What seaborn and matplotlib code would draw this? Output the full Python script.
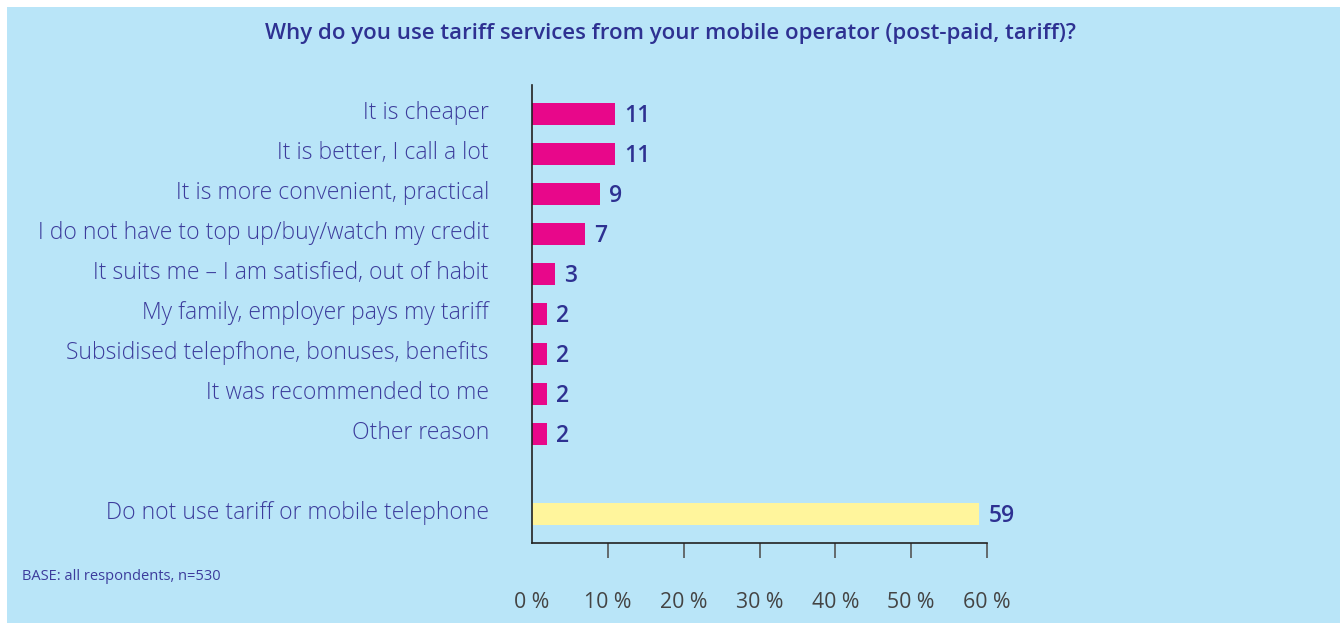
import matplotlib
matplotlib.use("Agg")
import matplotlib.pyplot as plt
import matplotlib.transforms as mtransforms
import seaborn as sns
import pandas as pd
from matplotlib.patches import Rectangle

# Survey answers (% of respondents)
reasons = [
    "It is cheaper",
    "It is better, I call a lot",
    "It is more convenient, practical",
    "I do not have to top up/buy/watch my credit",
    "It suits me \u2013 I am satisfied, out of habit",
    "My family, employer pays my tariff",
    "Subsidised telepfhone, bonuses, benefits",
    "It was recommended to me",
    "Other reason",
]
reason_values = [11, 11, 9, 7, 3, 2, 2, 2, 2]
no_use_label = "Do not use tariff or mobile telephone"
no_use_value = 59
x_ticks = [0, 10, 20, 30, 40, 50, 60]
x_tick_labels = [f"{t} %" for t in x_ticks]

title = "Why do you use tariff services from your mobile operator (post-paid, tariff)?"
base_note = "BASE: all respondents, n=530"

BG = "#b9e5f8"
PINK = "#e8078a"
YELLOW = "#fff59c"
NAVY = "#2e3192"
LABEL = "#3c3c9c"

df = pd.DataFrame({
    "answer": reasons + [no_use_label],
    "value": reason_values + [no_use_value],
    "group": ["reason"] * len(reasons) + ["none"],
})
spacer = " "
order = reasons + [spacer, no_use_label]

sns.set_theme(style="white")
plt.rcParams["font.family"] = ["Open Sans", "DejaVu Sans"]

fig = plt.figure(figsize=(13.4, 6.23), dpi=100, facecolor="white")
W, H = 1340, 623
fig.patches.append(Rectangle((7 / W, 0), 1, 1 - 7 / H, transform=fig.transFigure,
                             facecolor=BG, edgecolor="none", zorder=-10))

ax = fig.add_axes([532 / W, 1 - 543 / H, (987 - 532) / W, (543 - 85) / H])
ax.set_facecolor("none")

sns.barplot(data=df, x="value", y="answer", order=order, hue="group",
            palette={"reason": PINK, "none": YELLOW}, dodge=False,
            legend=False, width=0.55, saturation=1, linewidth=0, ax=ax)

ax.set_xlim(0, 60)
ax.set_ylim(len(order) - 1 + 0.725, -0.725)
ax.set_xlabel("")
ax.set_ylabel("")

# value labels
for i, name in enumerate(order):
    if name == spacer:
        continue
    v = df.loc[df["answer"] == name, "value"].iloc[0]
    ax.text(v + 1.2, i + 0.06, f"{v}", va="center", ha="left",
            fontsize=16.5, color=NAVY, fontweight="semibold")

ax.set_xticks(x_ticks)
ax.set_xticklabels(x_tick_labels, fontsize=15.3, color="#444444")
ax.tick_params(axis="x", direction="out", length=11, width=1.2,
               color="#555555", pad=24, bottom=True)
ax.xaxis.get_major_ticks()[0].tick1line.set_visible(False)

ax.set_yticks(range(len(order)))
ax.set_yticklabels(order, fontsize=16.5, color=LABEL, fontweight="light")
ax.tick_params(axis="y", length=0, pad=31)
# lift category labels slightly above the bar centres
lift = mtransforms.ScaledTranslation(0, 3 / 72, fig.dpi_scale_trans)
for lbl in ax.get_yticklabels():
    lbl.set_transform(lbl.get_transform() + lift)

for side in ["top", "right"]:
    ax.spines[side].set_visible(False)
for side in ["left", "bottom"]:
    ax.spines[side].set_color("#222222")
    ax.spines[side].set_linewidth(1.2)

fig.text(670 / W, 1 - 34 / H, title, ha="center", va="center",
         fontsize=16, color=NAVY, fontweight="semibold")
fig.text(22 / W, 1 - 577 / H, base_note, ha="left", va="center",
         fontsize=10.5, color=LABEL)

fig.savefig("out.png", dpi=100, facecolor="white")
